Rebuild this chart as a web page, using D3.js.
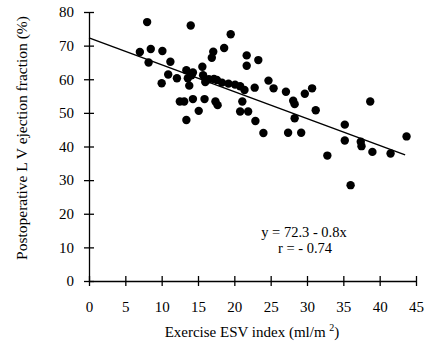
<!DOCTYPE html>
<html>
<head>
<meta charset="utf-8">
<script src="https://cdn.jsdelivr.net/npm/d3@7"></script>
<style>
  body { margin: 0; background: #fff; }
  svg text { font-family: "Liberation Serif", "Times New Roman", serif; fill: #000; }
</style>
</head>
<body>
<svg id="chart" width="427" height="347"></svg>
<script>
// values (exercise ESV index vs postoperative EF)
var esvIndex = [7.0, 8.5, 10.1, 8.0, 8.2, 11.2, 10.9, 10.0, 12.1, 13.4, 14.3, 13.6, 14.1, 13.8,
  14.0, 15.6, 15.7, 16.0, 16.5, 16.9, 17.1, 12.5, 13.1, 14.3, 15.9, 15.1, 13.4, 19.5, 18.6,
  17.2, 17.6, 18.3, 19.2, 20.1, 20.8, 21.4, 17.4, 17.7, 21.7, 21.7, 23.3, 22.8, 21.1, 20.8,
  21.9, 22.9, 24.0, 24.7, 25.4, 27.1, 28.1, 28.3, 28.3, 27.4, 29.2, 29.7, 30.7, 31.2, 32.8,
  35.2, 35.2, 37.4, 37.5, 39.0, 38.7, 41.5, 43.7, 36.0];
var ejectionFraction = [68.1, 69.0, 68.4, 77.0, 65.0, 65.2, 61.4, 58.8, 60.3, 62.7, 62.0, 60.3, 61.2, 58.1,
  76.0, 63.7, 61.2, 59.2, 60.0, 66.4, 68.2, 53.4, 53.4, 54.1, 54.1, 50.6, 47.9, 73.4, 69.3,
  60.1, 59.8, 59.0, 58.7, 58.4, 57.9, 56.8, 53.4, 52.3, 67.1, 64.0, 65.7, 57.5, 53.4, 50.4,
  50.4, 47.6, 44.0, 59.6, 57.3, 56.3, 53.6, 52.6, 48.4, 44.1, 44.1, 55.7, 57.3, 50.8, 37.3,
  46.5, 41.8, 41.4, 40.1, 38.4, 53.4, 37.9, 43.0, 28.5];

// regression line end points
var fitX = [0, 43.5];
var fitY = [72.3, 37.5];

var xTicks = [0, 5, 10, 15, 20, 25, 30, 35, 40, 45];
var yTicks = [0, 10, 20, 30, 40, 50, 60, 70, 80];

var svg = d3.select('#chart');

var xScale = d3.scaleLinear().domain([0, 45]).range([89, 416]);
var yScale = d3.scaleLinear().domain([0, 80]).range([281, 12]);

// y axis, ticks cross the axis line
var yAxisG = svg.append('g')
  .attr('transform', 'translate(' + xScale(0) + ',0)')
  .call(d3.axisLeft(yScale).tickValues(yTicks).tickSize(5).tickSizeOuter(0).tickPadding(10));
yAxisG.selectAll('.tick line').attr('x1', 5);
yAxisG.selectAll('text').style('font-size', '15px');

// x axis
var xAxisG = svg.append('g')
  .attr('transform', 'translate(0,' + yScale(0) + ')')
  .call(d3.axisBottom(xScale).tickValues(xTicks).tickSize(5).tickSizeOuter(0).tickPadding(15));
xAxisG.selectAll('.tick line').attr('y1', -5);
xAxisG.selectAll('text').style('font-size', '15px');

svg.selectAll('.domain, .tick line').attr('stroke', '#000').attr('stroke-width', 1.3);

// points
var pts = esvIndex.map(function(d, i) { return [d, ejectionFraction[i]]; });
svg.selectAll('.dot').data(pts).enter()
  .append('circle')
  .attr('class', 'dot')
  .attr('cx', function(d) { return xScale(d[0]); })
  .attr('cy', function(d) { return yScale(d[1]); })
  .attr('r', 4.2)
  .attr('fill', '#000');

// fitted line
var line = d3.line()
  .x(function(d) { return xScale(d[0]); })
  .y(function(d) { return yScale(d[1]); });
svg.append('path')
  .datum(fitX.map(function(d, i) { return [d, fitY[i]]; }))
  .attr('d', line)
  .attr('fill', 'none')
  .attr('stroke', '#000')
  .attr('stroke-width', 1.5);

// equation
svg.append('text').attr('x', 304).attr('y', 237)
  .attr('text-anchor', 'middle').style('font-size', '14.5px')
  .text('y = 72.3 - 0.8x');
svg.append('text').attr('x', 305).attr('y', 253)
  .attr('text-anchor', 'middle').style('font-size', '14.5px')
  .text('r = - 0.74');

// axis titles
var xt = svg.append('text').attr('x', 252).attr('y', 337)
  .attr('text-anchor', 'middle').style('font-size', '15px');
xt.append('tspan').text('Exercise ESV index (ml/m ');
xt.append('tspan').attr('dy', -6).style('font-size', '10px').text('2');
xt.append('tspan').attr('dy', 6).text(')');

svg.append('text')
  .attr('transform', 'translate(27,138) rotate(-90)')
  .attr('text-anchor', 'middle').style('font-size', '15.5px')
  .text('Postoperative L V ejection fraction (%)');
</script>
</body>
</html>
